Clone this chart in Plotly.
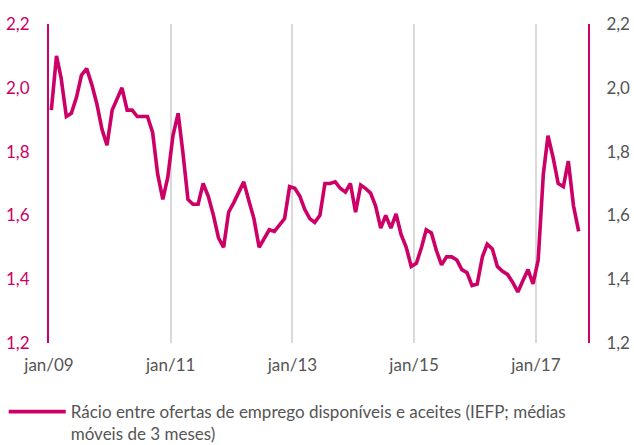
import pandas as pd
import plotly.graph_objects as go

# Monthly ratio (IEFP; 3-month moving average), Jan 2009 - Sep 2017
start_month = "2009-01-01"
ratio = [
    1.93, 2.10, 2.03, 1.91, 1.92, 1.97, 2.04, 2.06, 2.01, 1.95, 1.87, 1.82,
    1.93, 1.97, 2.00, 1.93, 1.93, 1.91, 1.91, 1.91, 1.86, 1.73, 1.65, 1.72,
    1.85, 1.92, 1.80, 1.65, 1.635, 1.635, 1.70, 1.66, 1.60, 1.53, 1.50, 1.61,
    1.64, 1.675, 1.705, 1.645, 1.59, 1.50, 1.53, 1.555, 1.55, 1.57, 1.59, 1.69,
    1.685, 1.66, 1.62, 1.59, 1.578, 1.60, 1.70, 1.70, 1.705, 1.685, 1.673, 1.70,
    1.61, 1.695, 1.685, 1.67, 1.63, 1.56, 1.60, 1.56, 1.605, 1.54, 1.50, 1.44,
    1.45, 1.50, 1.555, 1.545, 1.49, 1.445, 1.47, 1.47, 1.46, 1.43, 1.42, 1.38,
    1.385, 1.47, 1.51, 1.495, 1.44, 1.425, 1.415, 1.39, 1.36, 1.395, 1.43, 1.385,
    1.46, 1.73, 1.85, 1.78, 1.70, 1.69, 1.77, 1.63, 1.55,
]
tick_dates = ["2009-01-01", "2011-01-01", "2013-01-01", "2015-01-01", "2017-01-01"]
tick_labels = ["jan/09", "jan/11", "jan/13", "jan/15", "jan/17"]
y_ticks = [1.2, 1.4, 1.6, 1.8, 2.0, 2.2]
series_name = "Rácio entre ofertas de emprego disponíveis e aceites (IEFP; médias<br>móveis de 3 meses)"

dates = pd.date_range(start_month, periods=len(ratio), freq="MS") + pd.Timedelta(days=14)

MAGENTA = "#CC0066"
GREY = "#555555"
FONT = "Lato"

fig = go.Figure()
fig.add_trace(go.Scatter(
    x=dates, y=ratio, mode="lines", name=series_name,
    line=dict(color=MAGENTA, width=3.6),
))
fig.add_trace(go.Scatter(
    x=dates, y=ratio, mode="lines", yaxis="y2", showlegend=False,
    line=dict(color="rgba(0,0,0,0)", width=0), hoverinfo="skip",
))

fig.update_layout(
    width=634, height=445,
    margin=dict(l=49, r=46, t=24, b=102, autoexpand=False),
    paper_bgcolor="white", plot_bgcolor="white",
    separators=",.",
    font=dict(family=FONT, size=17, color=GREY),
    xaxis=dict(
        type="date", range=["2009-01-01", "2017-11-10"],
        tickvals=tick_dates, ticktext=tick_labels,
        showgrid=True, gridcolor="#D9D9D9", gridwidth=2,
        zeroline=False, showline=False, ticks="",
        ticklabelstandoff=10, automargin=False,
        tickfont=dict(family=FONT, size=17, color=GREY),
    ),
    yaxis=dict(
        range=[1.2, 2.2], tickvals=y_ticks, tickformat=".1f",
        showgrid=False, zeroline=False,
        showline=True, linecolor=MAGENTA, linewidth=2,
        ticks="", ticklabelstandoff=14, automargin=False,
        tickfont=dict(family=FONT, size=17, color=MAGENTA),
    ),
    yaxis2=dict(
        range=[1.2, 2.2], tickvals=y_ticks, tickformat=".1f",
        overlaying="y", side="right",
        showgrid=False, zeroline=False,
        showline=True, linecolor=MAGENTA, linewidth=2,
        ticks="", ticklabelstandoff=13, automargin=False,
        tickfont=dict(family=FONT, size=17, color=GREY),
    ),
    showlegend=True,
    legend=dict(
        x=-0.084, xanchor="left", y=-0.16, yanchor="top",
        orientation="v", valign="top", itemwidth=57,
        font=dict(family=FONT, size=17, color=GREY),
        bgcolor="rgba(0,0,0,0)", tracegroupgap=0,
    ),
)

fig.write_html(
    "out.html",
    config={"displayModeBar": False},
    post_script="document.body.style.margin='0px';",
)
